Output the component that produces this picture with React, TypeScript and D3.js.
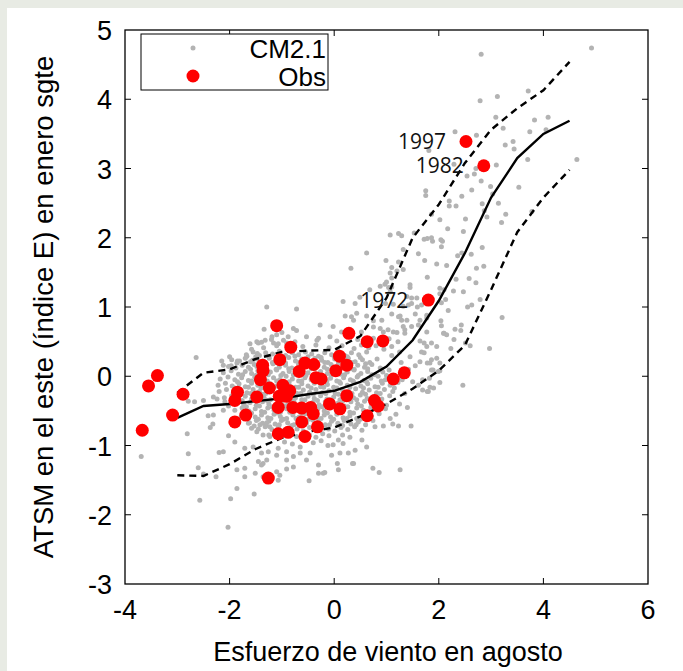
import React from 'react';
import { scaleLinear, line } from 'd3';

// axis ticks
const xTicks = [-4, -2, 0, 2, 4, 6];
const yTicks = [-3, -2, -1, 0, 1, 2, 3, 4, 5];

// percentile curves of the model (binned along x)
const binX = [-3, -2.5, -2, -1.5, -1, -0.5, 0, 0.5, 1, 1.5, 2, 2.5, 3, 3.5, 4, 4.5];
const medianY = [-0.6, -0.43, -0.4, -0.36, -0.32, -0.26, -0.21, -0.08, 0.14, 0.52, 1.09, 1.78, 2.58, 3.15, 3.5, 3.69];
const upperY = [-0.24, 0.05, 0.1, 0.25, 0.35, 0.37, 0.38, 0.58, 1.13, 2.0, 2.48, 3.08, 3.56, 3.87, 4.13, 4.54];
const lowerY = [-1.43, -1.44, -1.27, -1.05, -0.89, -0.8, -0.74, -0.58, -0.4, -0.18, 0.08, 0.45, 1.25, 2.08, 2.58, 2.98];

// observations
const obs: [number, number][] = [
  [-3.67, -0.78], [-3.55, -0.14], [-3.38, 0.01], [-2.89, -0.26], [-3.09, -0.56], [-1.85, -0.23],
  [-1.9, -0.35], [-1.48, -0.3], [-1.69, -0.56], [-1.9, -0.66], [-1.26, -1.47], [-1.1, 0.73],
  [-1.37, 0.16], [-1.36, 0.08], [-1.41, -0.05], [-1.24, -0.17], [-1.04, 0.24], [-0.83, 0.42],
  [-0.98, -0.13], [-0.85, -0.21], [-1.05, -0.29], [-0.91, -0.29], [-1.07, -0.45], [-0.79, -0.45],
  [-1.07, -0.83], [-0.88, -0.81], [-0.67, 0.07], [-0.56, 0.19], [-0.39, 0.17], [-0.35, -0.02],
  [-0.25, -0.04], [-0.62, -0.46], [-0.45, -0.45], [-0.4, -0.54], [-0.62, -0.66], [-0.32, -0.73],
  [-0.56, -0.87], [-0.09, -0.4], [0.1, 0.29], [0.03, 0.08], [0.11, -0.47], [0.28, 0.62],
  [1.8, 1.1], [0.63, 0.5], [0.93, 0.51], [0.24, 0.16], [1.34, 0.05], [1.13, -0.04],
  [0.24, -0.28], [0.77, -0.35], [0.84, -0.43], [0.63, -0.57], [2.52, 3.39], [2.86, 3.04],
];

const labels = [
  { year: '1997', x: 2.52, y: 3.39 },
  { year: '1982', x: 2.86, y: 3.04 },
  { year: '1972', x: 1.8, y: 1.1 },
];

// CM2.1 model points, dense core
const cmCore: [number, number][] = [
  [-1.68, 0.31], [-1.55, 0.35], [-1.43, 0.3], [-1.31, 0.34], [-1.18, 0.32], [-1.05, 0.36], [-0.93, 0.3], [-0.8, 0.34], [-0.68, 0.31], [-0.55, 0.35], [-0.43, 0.32], [-0.3, 0.29], [-0.18, 0.34], [-0.05, 0.31], [0.08, 0.36], [0.2, 0.3], [0.33, 0.34], [0.47, 0.31], [0.62, 0.35],
  [-1.85, 0.22], [-1.7, 0.26], [-1.6, 0.21], [-1.48, 0.25], [-1.36, 0.22], [-1.24, 0.26], [-1.12, 0.21], [-0.99, 0.24], [-0.87, 0.27], [-0.74, 0.22], [-0.62, 0.25], [-0.49, 0.21], [-0.37, 0.26], [-0.24, 0.23], [-0.12, 0.2], [0.01, 0.25], [0.14, 0.22], [0.27, 0.26], [0.4, 0.21], [0.54, 0.24], [0.68, 0.2], [0.82, 0.25],
  [-2.02, 0.14], [-1.88, 0.12], [-1.76, 0.16], [-1.64, 0.13], [-1.53, 0.17], [-1.41, 0.12], [-1.29, 0.15], [-1.17, 0.18], [-1.05, 0.13], [-0.93, 0.16], [-0.81, 0.12], [-0.68, 0.17], [-0.56, 0.14], [-0.44, 0.11], [-0.31, 0.16], [-0.19, 0.13], [-0.06, 0.17], [0.06, 0.12], [0.19, 0.15], [0.32, 0.11], [0.45, 0.16], [0.58, 0.13], [0.72, 0.17], [0.88, 0.12],
  [-2.12, 0.05], [-1.97, 0.08], [-1.83, 0.03], [-1.7, 0.07], [-1.58, 0.04], [-1.46, 0.08], [-1.34, 0.03], [-1.22, 0.06], [-1.1, 0.09], [-0.98, 0.04], [-0.86, 0.07], [-0.74, 0.03], [-0.62, 0.08], [-0.5, 0.05], [-0.38, 0.02], [-0.26, 0.07], [-0.13, 0.04], [-0.01, 0.08], [0.12, 0.03], [0.25, 0.06], [0.38, 0.09], [0.51, 0.04], [0.64, 0.07], [0.78, 0.02], [0.93, 0.06], [1.05, 0.09],
  [-2.18, -0.04], [-2.03, -0.01], [-1.9, -0.05], [-1.77, -0.02], [-1.64, -0.06], [-1.52, -0.01], [-1.4, -0.04], [-1.28, -0.07], [-1.16, -0.02], [-1.04, -0.05], [-0.92, 0.0], [-0.8, -0.04], [-0.68, -0.07], [-0.56, -0.02], [-0.44, -0.05], [-0.32, -0.01], [-0.2, -0.06], [-0.07, -0.03], [0.05, -0.07], [0.18, -0.02], [0.31, -0.05], [0.44, -0.01], [0.57, -0.06], [0.7, -0.03], [0.84, 0.0], [0.98, -0.05], [1.14, -0.02],
  [-2.22, -0.13], [-2.08, -0.1], [-1.95, -0.14], [-1.82, -0.11], [-1.7, -0.15], [-1.58, -0.1], [-1.46, -0.13], [-1.34, -0.16], [-1.22, -0.11], [-1.1, -0.14], [-0.98, -0.09], [-0.86, -0.13], [-0.74, -0.16], [-0.62, -0.11], [-0.5, -0.14], [-0.38, -0.1], [-0.26, -0.15], [-0.13, -0.12], [-0.01, -0.16], [0.12, -0.1], [0.25, -0.13], [0.38, -0.09], [0.51, -0.14], [0.64, -0.11], [0.78, -0.15], [0.92, -0.1], [1.07, -0.13], [1.22, -0.09],
  [-2.2, -0.22], [-2.06, -0.19], [-1.92, -0.23], [-1.79, -0.2], [-1.67, -0.24], [-1.55, -0.19], [-1.43, -0.22], [-1.31, -0.25], [-1.19, -0.2], [-1.07, -0.23], [-0.95, -0.18], [-0.83, -0.22], [-0.71, -0.25], [-0.59, -0.2], [-0.47, -0.23], [-0.35, -0.19], [-0.23, -0.24], [-0.1, -0.21], [0.02, -0.25], [0.15, -0.19], [0.28, -0.22], [0.41, -0.18], [0.54, -0.23], [0.67, -0.2], [0.81, -0.24], [0.96, -0.19], [1.12, -0.22],
  [-2.1, -0.31], [-1.96, -0.28], [-1.83, -0.32], [-1.7, -0.29], [-1.58, -0.33], [-1.46, -0.28], [-1.34, -0.31], [-1.22, -0.34], [-1.1, -0.29], [-0.98, -0.32], [-0.86, -0.27], [-0.74, -0.31], [-0.62, -0.34], [-0.5, -0.29], [-0.38, -0.32], [-0.26, -0.28], [-0.14, -0.33], [-0.01, -0.3], [0.11, -0.34], [0.24, -0.28], [0.37, -0.31], [0.5, -0.27], [0.63, -0.32], [0.77, -0.29], [0.91, -0.33], [1.06, -0.28],
  [-2.0, -0.4], [-1.86, -0.37], [-1.73, -0.41], [-1.61, -0.38], [-1.49, -0.42], [-1.37, -0.37], [-1.25, -0.4], [-1.13, -0.43], [-1.01, -0.38], [-0.89, -0.41], [-0.77, -0.36], [-0.65, -0.4], [-0.53, -0.43], [-0.41, -0.38], [-0.29, -0.41], [-0.17, -0.37], [-0.05, -0.42], [0.07, -0.39], [0.19, -0.43], [0.32, -0.37], [0.45, -0.4], [0.58, -0.36], [0.71, -0.41], [0.85, -0.38], [1.0, -0.42],
  [-1.9, -0.49], [-1.76, -0.46], [-1.63, -0.5], [-1.51, -0.47], [-1.39, -0.51], [-1.27, -0.46], [-1.15, -0.49], [-1.03, -0.52], [-0.91, -0.47], [-0.79, -0.5], [-0.67, -0.45], [-0.55, -0.49], [-0.43, -0.52], [-0.31, -0.47], [-0.19, -0.5], [-0.07, -0.46], [0.05, -0.51], [0.17, -0.48], [0.3, -0.52], [0.43, -0.46], [0.56, -0.49], [0.7, -0.45], [0.84, -0.5], [0.98, -0.47],
  [-1.78, -0.58], [-1.64, -0.55], [-1.51, -0.59], [-1.39, -0.56], [-1.27, -0.6], [-1.15, -0.55], [-1.03, -0.58], [-0.91, -0.61], [-0.79, -0.56], [-0.67, -0.59], [-0.55, -0.54], [-0.43, -0.58], [-0.31, -0.61], [-0.19, -0.56], [-0.07, -0.59], [0.05, -0.55], [0.17, -0.6], [0.3, -0.57], [0.43, -0.61], [0.57, -0.55], [0.71, -0.58], [0.86, -0.54],
  [-1.62, -0.67], [-1.49, -0.64], [-1.37, -0.68], [-1.25, -0.65], [-1.13, -0.69], [-1.01, -0.64], [-0.89, -0.67], [-0.77, -0.7], [-0.65, -0.65], [-0.53, -0.68], [-0.41, -0.63], [-0.29, -0.67], [-0.17, -0.7], [-0.05, -0.65], [0.07, -0.68], [0.19, -0.64], [0.32, -0.69], [0.46, -0.66], [0.6, -0.7], [0.74, -0.64],
  [-1.45, -0.76], [-1.32, -0.73], [-1.19, -0.77], [-1.07, -0.74], [-0.95, -0.78], [-0.83, -0.73], [-0.71, -0.76], [-0.59, -0.79], [-0.47, -0.74], [-0.35, -0.77], [-0.23, -0.72], [-0.11, -0.76], [0.01, -0.79], [0.13, -0.74], [0.26, -0.77], [0.39, -0.73],
  [-1.25, -0.85], [-1.11, -0.82], [-0.98, -0.86], [-0.85, -0.83], [-0.72, -0.87], [-0.59, -0.82], [-0.47, -0.85], [-0.35, -0.88], [-0.22, -0.83], [-0.1, -0.86],
];

// extra model points filling the densest part
const cmDense: [number, number][] = [
  [-1.5, 0.28], [-1.25, 0.29], [-1.0, 0.27], [-0.75, 0.29], [-0.5, 0.28], [-0.25, 0.27], [0.0, 0.29], [0.25, 0.28], [0.5, 0.27],
  [-1.42, 0.19], [-1.18, 0.2], [-0.93, 0.19], [-0.68, 0.2], [-0.43, 0.18], [-0.18, 0.2], [0.08, 0.19], [0.33, 0.2], [0.6, 0.18],
  [-1.6, 0.1], [-1.35, 0.11], [-1.11, 0.1], [-0.87, 0.11], [-0.62, 0.1], [-0.38, 0.11], [-0.13, 0.1], [0.12, 0.11], [0.38, 0.1], [0.64, 0.11], [0.9, 0.1],
  [-1.75, 0.02], [-1.5, 0.01], [-1.26, 0.02], [-1.02, 0.01], [-0.78, 0.02], [-0.54, 0.01], [-0.3, 0.02], [-0.06, 0.01], [0.2, 0.02], [0.46, 0.01], [0.72, 0.02], [1.0, 0.01],
  [-1.85, -0.08], [-1.58, -0.07], [-1.34, -0.08], [-1.1, -0.07], [-0.86, -0.08], [-0.62, -0.07], [-0.38, -0.08], [-0.14, -0.07], [0.1, -0.08], [0.36, -0.07], [0.62, -0.08], [0.9, -0.07],
  [-1.9, -0.17], [-1.64, -0.16], [-1.4, -0.17], [-1.16, -0.16], [-0.92, -0.17], [-0.68, -0.16], [-0.44, -0.17], [-0.2, -0.16], [0.05, -0.17], [0.3, -0.16], [0.56, -0.17], [0.84, -0.16], [1.15, -0.17],
  [-1.85, -0.26], [-1.6, -0.25], [-1.36, -0.26], [-1.12, -0.25], [-0.88, -0.26], [-0.64, -0.25], [-0.4, -0.26], [-0.16, -0.25], [0.08, -0.26], [0.34, -0.25], [0.6, -0.26], [0.88, -0.25],
  [-1.76, -0.35], [-1.52, -0.34], [-1.28, -0.35], [-1.04, -0.34], [-0.8, -0.35], [-0.56, -0.34], [-0.32, -0.35], [-0.08, -0.34], [0.17, -0.35], [0.43, -0.34], [0.7, -0.35],
  [-1.68, -0.44], [-1.43, -0.43], [-1.19, -0.44], [-0.95, -0.43], [-0.71, -0.44], [-0.47, -0.43], [-0.23, -0.44], [0.01, -0.43], [0.26, -0.44], [0.52, -0.43], [0.78, -0.44],
  [-1.58, -0.53], [-1.33, -0.52], [-1.09, -0.53], [-0.85, -0.52], [-0.61, -0.53], [-0.37, -0.52], [-0.13, -0.53], [0.11, -0.52], [0.37, -0.53], [0.64, -0.52],
  [-1.45, -0.62], [-1.21, -0.61], [-0.97, -0.62], [-0.73, -0.61], [-0.49, -0.62], [-0.25, -0.61], [-0.01, -0.62], [0.24, -0.61], [0.5, -0.62],
  [-1.3, -0.71], [-1.05, -0.7], [-0.81, -0.71], [-0.57, -0.7], [-0.33, -0.71], [-0.09, -0.7], [0.16, -0.71], [0.42, -0.7],
];

// model points above the core
const cmUpper: [number, number][] = [
  [-1.35, 0.41], [-1.1, 0.44], [-0.85, 0.4], [-0.6, 0.43], [-0.35, 0.45], [-0.1, 0.41], [0.15, 0.44], [0.38, 0.4], [0.52, 0.45], [0.66, 0.41], [0.8, 0.44], [0.95, 0.39], [1.1, 0.43],
  [-1.2, 0.53], [-0.75, 0.5], [-0.3, 0.55], [0.05, 0.51], [0.45, 0.53], [0.6, 0.49], [0.75, 0.55], [0.9, 0.51], [1.05, 0.54], [1.22, 0.5],
  [-1.29, 1.0], [-0.72, 0.97], [-1.34, 0.68], [-1.19, 0.57], [-1.1, 0.6], [-1.0, 0.63], [-1.45, 0.48], [-1.39, 0.49], [-1.32, 0.52],
  [-1.16, 0.48], [-1.07, 0.47], [-0.97, 0.52], [-0.91, 0.48], [-1.61, 0.47], [-1.48, 0.5], [-0.53, 0.57], [-0.33, 0.52], [-0.08, 0.57],
  [-0.78, 0.69], [-0.72, 0.66], [-0.88, 0.57], [-0.27, 0.74], [-0.02, 0.72], [0.14, 0.64], [-1.67, 0.29], [-1.56, 0.23], [-1.47, 0.33],
  [-1.58, 0.39], [-1.48, 0.14], [-1.39, 0.09], [-2.64, 0.27], [-2.0, 0.28], [-2.15, 0.22], [-2.12, 0.16], [-1.96, 0.24], [-1.97, 0.15],
  [-1.86, 0.19], [-1.81, 0.22], [0.21, 0.87], [0.33, 0.86], [0.37, 0.81], [0.43, 0.91], [0.62, 0.87], [0.75, 0.8], [0.91, 0.81],
  [0.75, 0.71], [0.88, 0.69], [0.94, 0.64], [1.03, 0.67], [1.2, 0.63], [1.35, 0.67], [0.52, 0.64], [1.13, 0.64], [1.35, 0.62], [1.48, 0.72],
  [1.1, 0.9], [1.23, 0.86], [1.29, 0.81], [1.32, 0.72], [1.26, 0.87], [1.39, 0.81], [1.64, 0.81], [1.77, 0.88], [1.55, 0.9], [1.61, 0.74],
  [1.77, 0.84], [1.77, 0.64], [1.59, 1.0], [0.17, 1.08], [0.4, 1.05], [0.49, 1.14], [0.68, 1.25], [0.32, 1.56], [0.62, 1.78],
];

// model points below the core
const cmLower: [number, number][] = [
  [-2.79, -0.36], [-2.67, -0.37], [-2.5, -0.35], [-2.31, -0.3], [-2.24, -0.33], [-2.09, -0.37], [-2.02, -0.43], [-2.12, -0.49],
  [-2.41, -0.57], [-2.31, -0.56], [-2.37, -0.74], [-2.32, -0.69], [-2.81, -0.83], [-2.79, -1.12], [-2.6, -1.32], [-2.5, -1.41],
  [-2.26, -1.45], [-2.57, -1.79], [-2.2, -1.1], [-2.12, -1.09], [-2.02, -0.86], [-1.9, -0.95], [-1.86, -1.35], [-1.71, -1.33],
  [-1.71, -1.45], [-1.51, -1.4], [-1.86, -1.62], [-1.98, -1.77], [-1.53, -1.7], [-3.69, -1.16], [-2.03, -2.18],
  [-1.64, -0.68], [-1.58, -0.75], [-1.53, -0.72], [-1.42, -0.7], [-1.29, -0.67], [-1.23, -0.73], [-1.48, -0.8], [-1.36, -0.85],
  [-1.23, -0.87], [-1.1, -0.82], [-1.71, -1.04], [-1.55, -1.02], [-1.39, -1.11], [-1.26, -1.09], [-1.1, -1.14], [-1.07, -1.04],
  [-1.45, -1.23], [-1.36, -1.26], [-1.29, -1.21], [-1.39, -1.28], [-1.1, -1.38], [-1.36, -1.45], [-1.26, -1.5], [-1.07, -1.5],
  [-1.04, -1.43], [-0.91, -1.34], [-0.78, -1.31], [-0.65, -1.02], [-0.46, -1.11], [-0.65, -1.11], [-0.53, -1.21], [-0.91, -1.09],
  [-0.78, -1.16], [-0.91, -1.21], [-0.95, -0.95], [-0.8, -0.98], [-0.4, -0.96], [-0.25, -0.93], [-0.12, -1.0],
  [0.08, -0.92], [0.17, -0.97], [-0.02, -0.99], [0.11, -1.11], [-0.05, -1.14], [0.06, -1.26], [-0.3, -1.28], [-0.21, -1.4],
  [-0.18, -1.39], [-0.3, -1.4], [-0.48, -1.51], [0.08, -1.35], [0.86, -1.39], [1.26, -1.35], [0.35, -1.26], [0.74, -1.33],
  [0.53, -0.92], [0.62, -1.02], [0.4, -1.07], [0.27, -1.11], [0.37, -1.26], [0.16, -0.85], [0.3, -0.88], [0.53, -0.78],
  [1.47, -0.72], [1.23, -0.72], [1.12, -0.69], [1.07, -0.61], [0.94, -0.72], [0.78, -0.73], [1.25, -0.4], [1.4, -0.45], [1.18, -0.55],
];

// model points along the rising arm
const cmArm: [number, number][] = [
  [1.3, -0.05], [1.42, 0.1], [1.35, -0.25], [1.5, -0.08], [1.28, 0.2], [1.45, 0.28], [1.55, 0.15], [1.1, 0.3], [1.25, 0.35],
  [1.64, 0.51], [1.77, 0.43], [1.86, 0.48], [1.96, 0.43], [1.64, 0.21], [1.83, 0.19], [1.96, 0.26], [1.86, 0.09], [1.99, 0.07],
  [1.61, -0.13], [1.8, -0.22], [1.72, 0.48], [1.67, 0.35], [1.72, 0.34], [2.51, 0.48], [2.6, 0.44], [2.23, 0.4], [2.97, 0.4],
  [1.86, 0.24], [1.78, 0.19], [2.02, 0.19], [1.89, 0.09], [2.02, 0.08], [1.69, -0.05], [1.82, -0.03], [2.02, -0.09], [2.46, -0.13],
  [1.83, -0.16], [1.9, -0.17], [1.69, -0.2], [1.78, -0.22], [2.04, 0.8], [2.05, 0.73], [2.43, 0.74], [2.42, 0.66], [2.1, 0.62],
  [2.29, 0.53], [2.15, 0.6], [2.31, 0.68], [2.09, 0.62], [2.18, 0.95], [2.55, 1.0], [3.21, 0.85], [2.05, 1.06], [2.79, 1.11],
  [2.63, 1.03], [2.13, 1.11], [1.39, 1.15], [1.48, 1.13], [1.58, 1.13], [1.42, 1.03], [1.48, 1.05], [1.67, 1.03], [0.98, 1.05],
  [1.13, 1.04], [1.32, 1.01], [0.88, 1.3], [1.1, 1.29], [0.97, 1.33], [1.04, 1.28], [1.07, 1.22], [1.45, 1.28], [1.45, 1.32],
  [2.02, 1.27], [2.1, 1.25], [2.28, 1.23], [2.02, 1.19], [2.47, 1.22], [1.78, 1.43], [2.33, 1.4], [2.58, 1.41], [2.71, 1.35],
  [0.99, 1.67], [1.23, 1.65], [1.1, 1.57], [1.2, 1.52], [1.32, 1.54], [1.07, 1.49], [1.0, 1.36], [1.1, 1.42], [1.73, 1.67],
  [1.96, 1.62], [2.15, 1.6], [2.86, 1.59], [2.72, 1.56], [1.32, 1.83], [1.61, 1.77], [2.36, 1.74], [2.44, 1.78], [2.62, 1.76],
  [2.83, 1.86], [1.07, 2.04], [1.23, 2.06], [1.29, 2.03], [1.53, 2.07], [1.72, 1.98], [1.78, 1.99], [1.86, 2.0], [1.88, 1.95],
  [2.04, 1.97], [2.07, 1.95], [2.05, 1.87], [2.17, 2.13], [2.47, 2.09], [2.02, 2.26], [2.51, 2.27], [3.2, 2.22], [2.92, 2.3],
  [1.86, 2.34], [3.28, 2.34], [3.78, 2.38], [2.87, 2.39], [2.2, 2.53], [2.2, 2.46], [2.33, 2.46], [3.14, 2.5], [2.83, 2.49],
  [2.44, 2.6], [3.03, 2.63], [1.75, 2.68], [1.75, 2.61], [2.63, 2.69], [2.81, 2.82], [2.99, 2.74], [3.53, 2.73],
  [2.68, 2.92], [2.54, 2.89], [2.71, 3.0], [2.29, 3.06], [3.1, 3.05], [3.7, 3.13], [4.64, 3.13], [1.81, 3.26], [3.44, 3.28],
  [3.27, 3.34], [3.42, 3.39], [2.72, 3.48], [2.31, 3.53], [3.74, 3.53], [4.05, 3.56], [3.23, 3.58], [3.83, 3.7], [4.09, 3.74],
  [3.09, 3.74], [2.79, 3.98], [3.12, 4.04], [3.71, 4.12], [2.81, 4.65], [4.92, 4.74],
];

const W = 683;
const H = 671;
const GREY = '#b3b3b3';

export default function App() {
  const x = scaleLinear().domain([-4, 6]).range([125, 648]);
  const y = scaleLinear().domain([-3, 5]).range([584, 30]);
  const [x0, x1] = x.range();
  const [y0, y1] = y.range();

  const path = (ys: number[]) =>
    line<number>()
      .x((d, i) => x(binX[i]))
      .y((d) => y(d))(ys) || '';

  const cm = [...cmCore, ...cmDense, ...cmUpper, ...cmLower, ...cmArm];
  const tickLen = 6;
  const font = '"Liberation Sans", Arial, sans-serif';

  return (
    <svg width={W} height={H} style={{ position: 'absolute', left: 0, top: 0 }}>
      <rect width={W} height={H} fill="#e8ebe4" />
      <rect x={7} y={8} width={W - 7} height={H - 8} fill="#fff" />

      {/* model cloud */}
      {cm.map((d, i) => (
        <circle key={i} cx={x(d[0])} cy={y(d[1])} r={2.5} fill={GREY} />
      ))}

      {/* percentile curves */}
      <path d={path(upperY)} fill="none" stroke="#000" strokeWidth={2.4} strokeDasharray="7,5" />
      <path d={path(lowerY)} fill="none" stroke="#000" strokeWidth={2.4} strokeDasharray="7,5" />
      <path d={path(medianY)} fill="none" stroke="#000" strokeWidth={2.4} />

      {/* observations */}
      {obs.map((d, i) => (
        <circle key={i} cx={x(d[0])} cy={y(d[1])} r={6.5} fill="#ff0000" />
      ))}

      {labels.map((l) => (
        <text
          key={l.year}
          x={x(l.x) - 20}
          y={y(l.y) + 7.5}
          textAnchor="end"
          fontFamily='"Open Sans", sans-serif'
          fontSize={21}
          fill="#111"
        >
          {l.year}
        </text>
      ))}

      {/* frame and inward ticks */}
      <rect x={x0} y={y1} width={x1 - x0} height={y0 - y1} fill="none" stroke="#000" strokeWidth={1.3} />
      {xTicks.slice(1, -1).map((t) => (
        <g key={'xt' + t}>
          <line x1={x(t)} x2={x(t)} y1={y0} y2={y0 - tickLen} stroke="#000" />
          <line x1={x(t)} x2={x(t)} y1={y1} y2={y1 + tickLen} stroke="#000" />
        </g>
      ))}
      {yTicks.slice(1, -1).map((t) => (
        <g key={'yt' + t}>
          <line x1={x0} x2={x0 + tickLen} y1={y(t)} y2={y(t)} stroke="#000" />
          <line x1={x1} x2={x1 - tickLen} y1={y(t)} y2={y(t)} stroke="#000" />
        </g>
      ))}

      {xTicks.map((t) => (
        <text key={'xl' + t} x={x(t)} y={y0 + 35} textAnchor="middle" fontFamily={font} fontSize={27}>
          {t}
        </text>
      ))}
      {yTicks.map((t) => (
        <text key={'yl' + t} x={x0 - 13} y={y(t) + 10} textAnchor="end" fontFamily={font} fontSize={27}>
          {t}
        </text>
      ))}

      <text x={388} y={661} textAnchor="middle" fontFamily={font} fontSize={27}>
        Esfuerzo de viento en agosto
      </text>
      <text
        transform={`translate(53, ${(y0 + y1) / 2}) rotate(-90)`}
        textAnchor="middle"
        fontFamily={font}
        fontSize={27.5}
      >
        ATSM en el este (índice E) en enero sgte
      </text>

      {/* legend */}
      <rect x={141} y={34} width={187} height={56} fill="#fff" stroke="#000" strokeWidth={1} />
      <circle cx={193} cy={48} r={2.5} fill={GREY} />
      <circle cx={193} cy={76} r={6.5} fill="#ff0000" />
      <text x={326} y={58} textAnchor="end" fontFamily={font} fontSize={26}>
        CM2.1
      </text>
      <text x={326} y={86} textAnchor="end" fontFamily={font} fontSize={26}>
        Obs
      </text>
    </svg>
  );
}
